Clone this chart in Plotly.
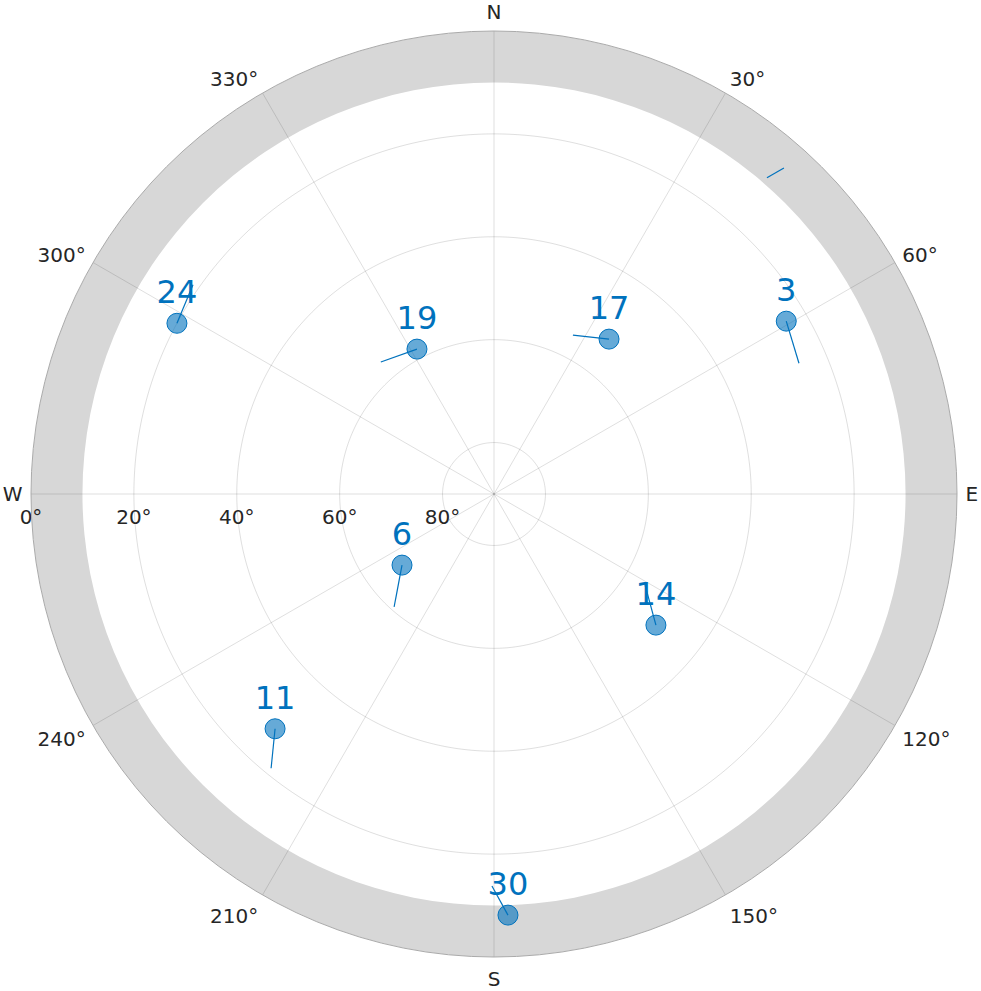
import numpy as np
import plotly.graph_objects as go

# Satellite data (azimuth deg clockwise from N, elevation deg)
sat_ids = ["24", "19", "17", "3", "6", "14", "11", "30"]
sat_az = [298.3, 332.0, 36.6, 59.4, 232.3, 129.0, 223.0, 178.1]
sat_el = [20.0, 58.1, 52.5, 24.0, 67.4, 49.5, 27.6, 8.1]

# Track start points (older positions) for each satellite
track_az_start = [304.8, 319.4, 26.4, 66.8, 221.5, 121.1, 219.1, 180.3]
track_el_start = [18.75, 56.2, 55.5, 25.5, 60.7, 55.7, 21.3, 13.8]

# Track of a satellite with no marker shown
hidden_track_az = [40.8, 41.65]
hidden_track_el = [8.8, 5.2]

mask_el = 10
ring_els = [80, 60, 40, 20]
radial_label_els = [0, 20, 40, 60, 80]
angle_ticks = [0, 30, 60, 90, 120, 150, 180, 210, 240, 270, 300, 330]
angle_labels = ["N", "30°", "60°", "E", "120°", "150°", "S", "210°", "240°", "W", "300°", "330°"]

BLUE = "rgb(0,114,189)"
GRID = "rgba(38,38,38,0.15)"
TXT = "rgb(38,38,38)"

def r_of(el):
    return [90 - e for e in el]

fig = go.Figure()

# Elevation mask ring
fig.add_trace(go.Barpolar(r=[mask_el], base=[90 - mask_el], theta=[180], width=[360],
                          marker=dict(color="rgb(215,215,215)", line=dict(width=0)),
                          hoverinfo="skip", showlegend=False))

# Grid circles
circ_theta = np.linspace(0, 360, 361)
for e in ring_els:
    fig.add_trace(go.Scatterpolar(r=[90 - e] * len(circ_theta), theta=circ_theta, mode="lines",
                                  line=dict(color=GRID, width=1), hoverinfo="skip", showlegend=False))
# Spokes
for a in angle_ticks:
    fig.add_trace(go.Scatterpolar(r=[0, 90], theta=[a, a], mode="lines",
                                  line=dict(color=GRID, width=1), hoverinfo="skip", showlegend=False))

# Satellite markers
fig.add_trace(go.Scatterpolar(r=r_of(sat_el), theta=sat_az, mode="markers",
                              marker=dict(size=20, color="rgba(0,114,189,0.6)",
                                          line=dict(color=BLUE, width=1)),
                              hoverinfo="skip", showlegend=False))

# Tracks
for i in range(len(sat_ids)):
    fig.add_trace(go.Scatterpolar(r=r_of([track_el_start[i], sat_el[i]]),
                                  theta=[track_az_start[i], sat_az[i]], mode="lines",
                                  line=dict(color=BLUE, width=1.2), hoverinfo="skip", showlegend=False))
fig.add_trace(go.Scatterpolar(r=r_of(hidden_track_el), theta=hidden_track_az, mode="lines",
                              line=dict(color=BLUE, width=1.2), hoverinfo="skip", showlegend=False))

# Satellite labels
fig.add_trace(go.Scatterpolar(r=r_of(sat_el), theta=sat_az, mode="markers+text", text=sat_ids,
                              textposition="top center",
                              marker=dict(size=18, color="rgba(0,0,0,0)"),
                              textfont=dict(size=32, color=BLUE, family="DejaVu Sans"),
                              hoverinfo="skip", showlegend=False))

# Radial (elevation) labels
fig.add_trace(go.Scatterpolar(r=r_of(radial_label_els), theta=[270] * len(radial_label_els),
                              mode="markers+text", text=[f"{e}°" for e in radial_label_els],
                              textposition="bottom center",
                              marker=dict(size=22, color="rgba(0,0,0,0)"),
                              textfont=dict(size=20, color=TXT, family="DejaVu Sans"),
                              hoverinfo="skip", showlegend=False))

fig.update_layout(
    width=981, height=991,
    margin=dict(l=31, r=24, t=31, b=34),
    paper_bgcolor="white",
    font=dict(family="DejaVu Sans", size=20, color=TXT),
    showlegend=False,
    polar=dict(
        bgcolor="white",
        domain=dict(x=[0, 1], y=[0, 1]),
        radialaxis=dict(range=[0, 90], showticklabels=False, showgrid=False, showline=False, ticks=""),
        angularaxis=dict(rotation=90, direction="clockwise", tickmode="array",
                         tickvals=angle_ticks, ticktext=angle_labels,
                         ticks="outside", ticklen=4, tickcolor="rgba(0,0,0,0)",
                         showgrid=False, showline=True, linecolor="rgb(170,170,170)", linewidth=1,
                         tickfont=dict(size=20, color=TXT, family="DejaVu Sans")),
        barmode="overlay",
    ),
)

fig.write_html("out.html")
